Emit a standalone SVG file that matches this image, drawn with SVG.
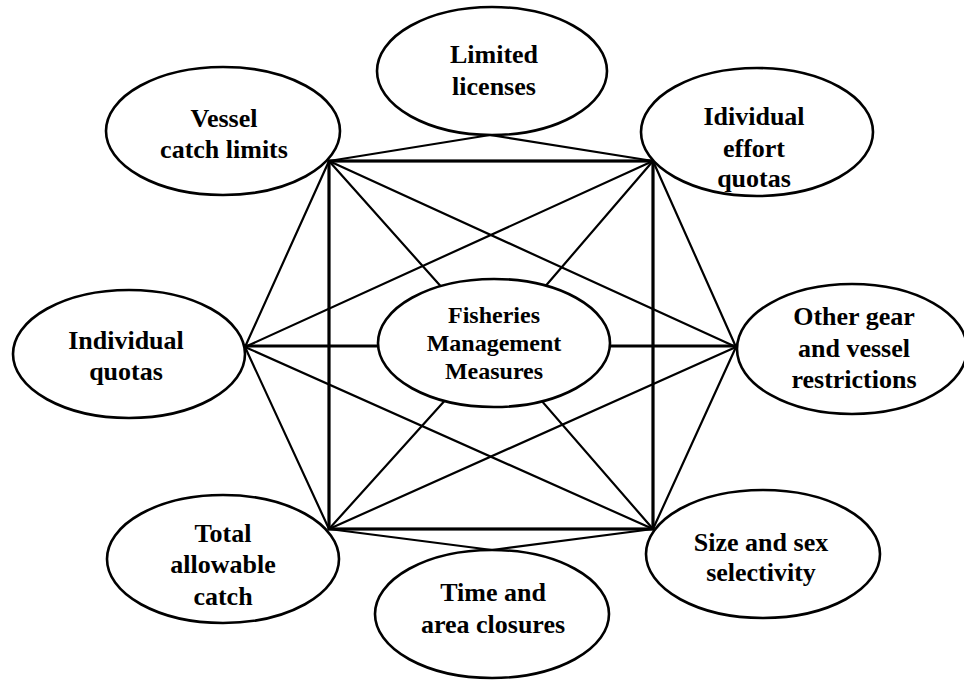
<svg xmlns="http://www.w3.org/2000/svg" width="964" height="681" viewBox="0 0 964 681">
  <style>
    .bg { fill: #ffffff; }
    .link { stroke: #000; stroke-width: 2.2; fill: none; stroke-linecap: round; }
    .frame { stroke: #000; stroke-width: 3.2; fill: none; stroke-linecap: square; }
    .node ellipse { fill: #ffffff; stroke: #000; stroke-width: 2.6; }
    .node text { font-family: "Liberation Serif", "Times New Roman", serif; font-weight: bold; font-size: 26px; fill: #000; text-anchor: middle; }
    #hub text { font-size: 24px; }
  </style>
  <rect class="bg" x="0" y="0" width="964" height="681"/>

  <!-- connectors between the measures -->
  <g id="connectors">
    <!-- outer ring -->
    <line class="link" x1="490" y1="135" x2="329" y2="161"/>
    <line class="link" x1="490" y1="135" x2="653" y2="161"/>
    <line class="link" x1="329" y1="161" x2="245" y2="347"/>
    <line class="link" x1="245" y1="347" x2="329" y2="529"/>
    <line class="link" x1="653" y1="161" x2="736" y2="347"/>
    <line class="link" x1="736" y1="347" x2="653" y2="529"/>
    <line class="link" x1="329" y1="529" x2="492" y2="550"/>
    <line class="link" x1="653" y1="529" x2="492" y2="550"/>
    <!-- long diagonals -->
    <line class="link" x1="329" y1="161" x2="736" y2="347"/>
    <line class="link" x1="653" y1="161" x2="245" y2="347"/>
    <line class="link" x1="245" y1="347" x2="653" y2="529"/>
    <line class="link" x1="736" y1="347" x2="329" y2="529"/>
    <!-- spokes to the hub -->
    <line class="link" x1="329" y1="161" x2="494" y2="346"/>
    <line class="link" x1="653" y1="161" x2="494" y2="346"/>
    <line class="link" x1="329" y1="529" x2="494" y2="346"/>
    <line class="link" x1="653" y1="529" x2="494" y2="346"/>
    <line class="frame" x1="245" y1="346" x2="494" y2="346"/>
    <line class="frame" x1="736" y1="346" x2="494" y2="346"/>
    <!-- central square -->
    <rect class="frame" x="329" y="161" width="324" height="368"/>
  </g>

  <g id="limited-licenses" class="node">
    <ellipse cx="492" cy="71" rx="115" ry="64"/>
    <text x="494" y="63">Limited</text>
    <text x="494" y="95">licenses</text>
  </g>

  <g id="vessel-catch-limits" class="node">
    <ellipse cx="223" cy="131" rx="117" ry="64"/>
    <text x="224" y="127">Vessel</text>
    <text x="224" y="158">catch limits</text>
  </g>

  <g id="individual-effort-quotas" class="node">
    <ellipse cx="757" cy="132" rx="116" ry="64"/>
    <text x="754" y="125">Idividual</text>
    <text x="754" y="157">effort</text>
    <text x="754" y="187">quotas</text>
  </g>

  <g id="individual-quotas" class="node">
    <ellipse cx="129" cy="354" rx="116" ry="64"/>
    <text x="126" y="349">Individual</text>
    <text x="126" y="380">quotas</text>
  </g>

  <g id="hub" class="node">
    <ellipse cx="494" cy="343" rx="116" ry="64"/>
    <text x="494" y="323">Fisheries</text>
    <text x="494" y="351">Management</text>
    <text x="494" y="379">Measures</text>
  </g>

  <g id="gear-vessel-restrictions" class="node">
    <ellipse cx="852" cy="349" rx="115" ry="65"/>
    <text x="854" y="325">Other gear</text>
    <text x="854" y="357">and vessel</text>
    <text x="854" y="388">restrictions</text>
  </g>

  <g id="total-allowable-catch" class="node">
    <ellipse cx="223" cy="559" rx="116" ry="64"/>
    <text x="223" y="542">Total</text>
    <text x="223" y="573">allowable</text>
    <text x="223" y="605">catch</text>
  </g>

  <g id="time-area-closures" class="node">
    <ellipse cx="492" cy="614" rx="117" ry="64"/>
    <text x="493" y="601">Time and</text>
    <text x="493" y="633">area closures</text>
  </g>

  <g id="size-sex-selectivity" class="node">
    <ellipse cx="763" cy="554" rx="117" ry="64"/>
    <text x="761" y="551">Size and sex</text>
    <text x="761" y="581">selectivity</text>
  </g>
</svg>
